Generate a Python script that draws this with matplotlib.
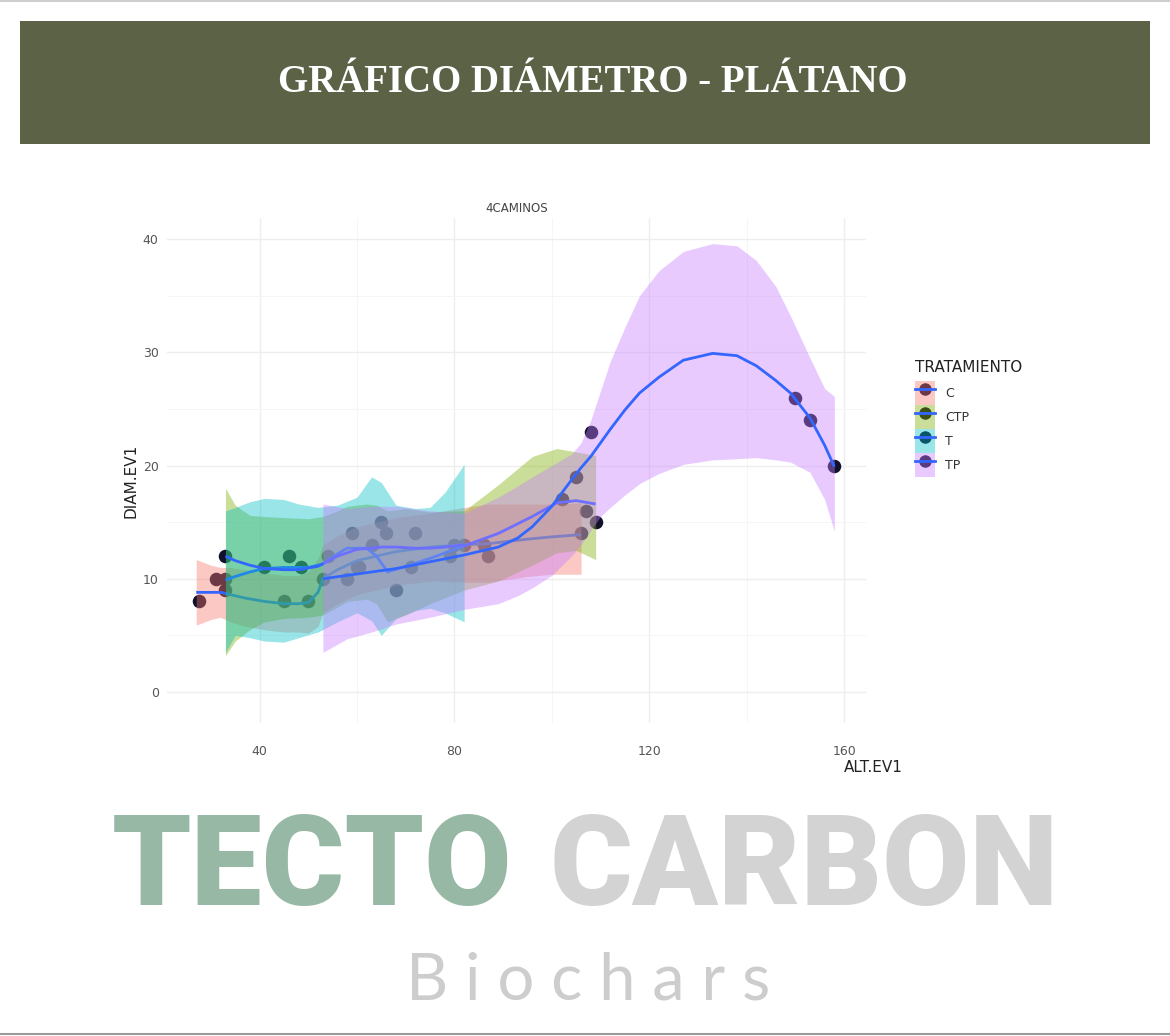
import matplotlib
matplotlib.use("Agg")
import matplotlib.pyplot as plt
from matplotlib.patches import Rectangle, Patch
from matplotlib.lines import Line2D
import numpy as np

# ---------------- data ----------------
groups = ["C", "CTP", "T", "TP"]
fill_colors = {"C": "#F8766D", "CTP": "#7CAE00", "T": "#00BFC4", "TP": "#C77CFF"}

# observed points
pts_x = {
    "C":   [27.5, 31, 33, 45, 50, 58, 86, 87, 106],
    "CTP": [33, 41, 48.5, 59, 63, 66, 71, 102, 105, 107],
    "T":   [33, 46, 54, 60.5, 65, 72, 79, 82],
    "TP":  [53, 60, 68, 80, 108, 109, 150, 153, 158],
}
pts_y = {
    "C":   [8, 10, 9, 8, 8, 10, 13, 12, 14],
    "CTP": [10, 11, 11, 14, 13, 14, 11, 17, 19, 16],
    "T":   [12, 12, 12, 11, 15, 14, 12, 13],
    "TP":  [10, 11, 9, 13, 23, 15, 26, 24, 20],
}

# smooth fits (loess) with confidence bands
sm_x = {
    "C":   [27, 30, 32, 34, 37, 41, 45, 48, 50, 52, 53, 56, 60, 64, 68, 75, 82, 87, 95, 100, 106],
    "CTP": [33, 35, 38, 41, 45, 50, 53, 56, 58, 62, 64, 66.3, 70, 75, 82, 89, 96, 101, 105, 109],
    "T":   [33, 35, 38, 41, 45, 48, 52, 56, 60, 63, 65, 68, 72, 75, 78, 82],
    "TP":  [53, 58, 63, 68, 75, 82, 89, 93, 96, 100, 104, 106, 108, 110, 112, 115, 118, 122,
            127, 133, 138, 142, 146, 149, 153, 156, 158],
}
sm_fit = {
    "C":   [8.8, 8.8, 8.8, 8.6, 8.3, 8.0, 7.8, 7.8, 7.9, 8.8, 10.0, 10.8, 11.6, 12.0, 12.4, 12.8,
            13.0, 13.1, 13.5, 13.7, 13.9],
    "CTP": [9.9, 10.2, 10.6, 10.9, 11.0, 11.0, 11.3, 12.2, 12.7, 12.7, 12.0, 10.6, 11.1, 11.8,
            12.9, 14.0, 15.5, 16.7, 16.9, 16.6],
    "T":   [12.0, 11.6, 11.2, 10.9, 10.8, 10.8, 11.1, 12.0, 12.6, 12.7, 12.8, 12.8, 12.7, 12.7,
            12.8, 13.0],
    "TP":  [10.0, 10.3, 10.6, 10.9, 11.5, 12.1, 12.8, 13.6, 14.6, 16.4, 18.7, 19.8, 20.8, 22.0,
            23.2, 24.9, 26.4, 27.8, 29.3, 29.9, 29.7, 28.8, 27.5, 26.4, 24.2, 21.8, 19.9],
}
sm_hi = {
    "C":   [11.7, 11.2, 11.0, 11.0, 10.8, 10.5, 10.3, 10.3, 10.6, 11.8, 13.0, 13.8, 14.6, 15.0,
            15.4, 15.8, 16.3, 16.6, 16.6, 16.6, 16.7],
    "CTP": [18.0, 16.5, 15.6, 15.5, 15.4, 15.3, 15.5, 16.0, 16.4, 16.6, 16.5, 16.0, 16.2, 15.9,
            16.0, 18.3, 20.8, 21.5, 21.2, 20.9],
    "T":   [16.0, 16.3, 16.8, 17.1, 17.0, 16.6, 16.3, 16.5, 17.2, 19.0, 18.5, 16.5, 16.2, 16.3,
            17.6, 20.1],
    "TP":  [16.6, 16.2, 16.4, 16.4, 16.0, 15.8, 17.2, 18.2, 19.0, 20.0, 21.0, 22.0, 24.0, 26.6,
            29.2, 32.2, 35.0, 37.2, 38.9, 39.6, 39.4, 38.1, 35.8, 33.2, 29.5, 26.8, 26.1],
}
sm_lo = {
    "C":   [5.9, 6.4, 6.6, 6.2, 5.8, 5.5, 5.3, 5.3, 5.2, 5.8, 7.0, 7.8, 8.6, 9.0, 9.4, 9.8, 9.7,
            9.7, 10.2, 10.4, 10.4],
    "CTP": [3.2, 4.5, 5.5, 6.2, 6.5, 6.6, 6.8, 7.5, 8.0, 8.2, 7.8, 6.2, 6.8, 7.8, 9.0, 9.8, 11.2,
            12.3, 12.5, 11.7],
    "T":   [3.5, 5.0, 4.8, 4.5, 4.4, 4.8, 5.3, 6.2, 7.0, 6.3, 5.0, 6.5, 7.2, 7.4, 7.0, 6.2],
    "TP":  [3.5, 4.7, 5.3, 6.0, 6.6, 7.3, 7.8, 8.5, 9.2, 10.3, 12.0, 13.0, 14.3, 15.5, 16.3,
            17.4, 18.4, 19.3, 20.1, 20.5, 20.6, 20.7, 20.5, 20.3, 19.4, 17.0, 14.2],
}

x_major = [40, 80, 120, 160]
x_minor = [60, 100, 140]
y_major = [0, 10, 20, 30, 40]
y_minor = [5, 15, 25, 35]

# ---------------- figure ----------------
W, H = 1170, 1036
fig = plt.figure(figsize=(W / 100, H / 100), dpi=100)
fig.patch.set_facecolor("white")

def fx(x):
    return x / W

def fy(y):
    return 1 - y / H

# thin frame lines top / bottom
fig.add_artist(Line2D([0, 1], [fy(1), fy(1)], color="#CFCFCF", lw=1.5, transform=fig.transFigure))
fig.add_artist(Line2D([0, 1], [fy(1034), fy(1034)], color="#9A9A9A", lw=1.5, transform=fig.transFigure))

# header banner
fig.add_artist(Rectangle((fx(20), fy(144)), fx(1130), 123 / H, facecolor="#5C6246",
                         edgecolor="none", transform=fig.transFigure))
fig.text(fx(593), fy(83), "GRÁFICO DIÁMETRO - PLÁTANO", ha="center", va="center",
         color="white", fontsize=28, fontweight="bold", family=["Liberation Serif", "DejaVu Serif"])

# plot panel
ax = fig.add_axes([fx(167), fy(722.6), 699 / W, 505.1 / H])
ax.set_xlim(21, 164.5)
ax.set_ylim(-2.7, 41.9)
for s in ax.spines.values():
    s.set_visible(False)
ax.set_xticks(x_major)
ax.set_xticks(x_minor, minor=True)
ax.set_yticks(y_major)
ax.set_yticks(y_minor, minor=True)
ax.grid(which="major", color="#EEEEEE", lw=1.0, zorder=0)
ax.grid(which="minor", color="#F5F5F5", lw=0.7, zorder=0)
ax.tick_params(which="both", length=0)
ax.tick_params(axis="x", pad=16, labelsize=9, labelcolor="#555555")
ax.tick_params(axis="y", pad=6, labelsize=9, labelcolor="#555555")
ax.set_axisbelow(True)

for g in groups:
    ax.scatter(pts_x[g], pts_y[g], s=95, color="#11112B", lw=0, zorder=2)

for g in groups:
    ax.fill_between(sm_x[g], sm_lo[g], sm_hi[g], color=fill_colors[g], alpha=0.4, lw=0, zorder=3)
    ax.plot(sm_x[g], sm_fit[g], color="#3366FF", lw=2.0, zorder=3, solid_capstyle="butt")

ax.set_title("4CAMINOS", fontsize=8.5, color="#444444", pad=4)

fig.text(fx(903), fy(768), "ALT.EV1", ha="right", va="center", fontsize=11, color="#222222")
fig.text(fx(131), fy(481), "DIAM.EV1", ha="center", va="center", rotation=90, fontsize=11,
         color="#222222")

# legend
fig.text(fx(915), fy(367), "TRATAMIENTO", ha="left", va="center", fontsize=11, color="#222222")
handles = []
for g in groups:
    pt = Line2D([], [], ls="none", marker="o", markersize=9, color="#11112B", markeredgewidth=0)
    pa = Patch(facecolor=fill_colors[g], alpha=0.4, edgecolor="none")
    ln = Line2D([], [], color="#3366FF", lw=2.0)
    handles.append((pt, pa, ln))
leg = fig.legend(handles, groups, loc="upper left", bbox_to_anchor=(fx(915), fy(381)),
                 frameon=False, fontsize=9,
                 handlelength=1.6, handleheight=2.58, labelspacing=0, handletextpad=0.8,
                 borderpad=0, borderaxespad=0)
for t in leg.get_texts():
    t.set_color("#333333")

# logo
fig.text(fx(112), fy(905), "TECTO", ha="left", va="baseline", fontsize=91, fontweight="black",
         family=["Roboto", "DejaVu Sans"], color="#97B8A5")
fig.text(fx(549), fy(905), "CARBON", ha="left", va="baseline", fontsize=91, fontweight="black",
         family=["Roboto", "DejaVu Sans"], color="#D3D3D3")
fig.text(fx(588), fy(1000), "B i o c h a r s", ha="center", va="baseline", fontsize=47,
         fontweight="normal", family=["Lato", "DejaVu Sans"], color="#CDCDCD")

fig.savefig("out.png", dpi=100)
